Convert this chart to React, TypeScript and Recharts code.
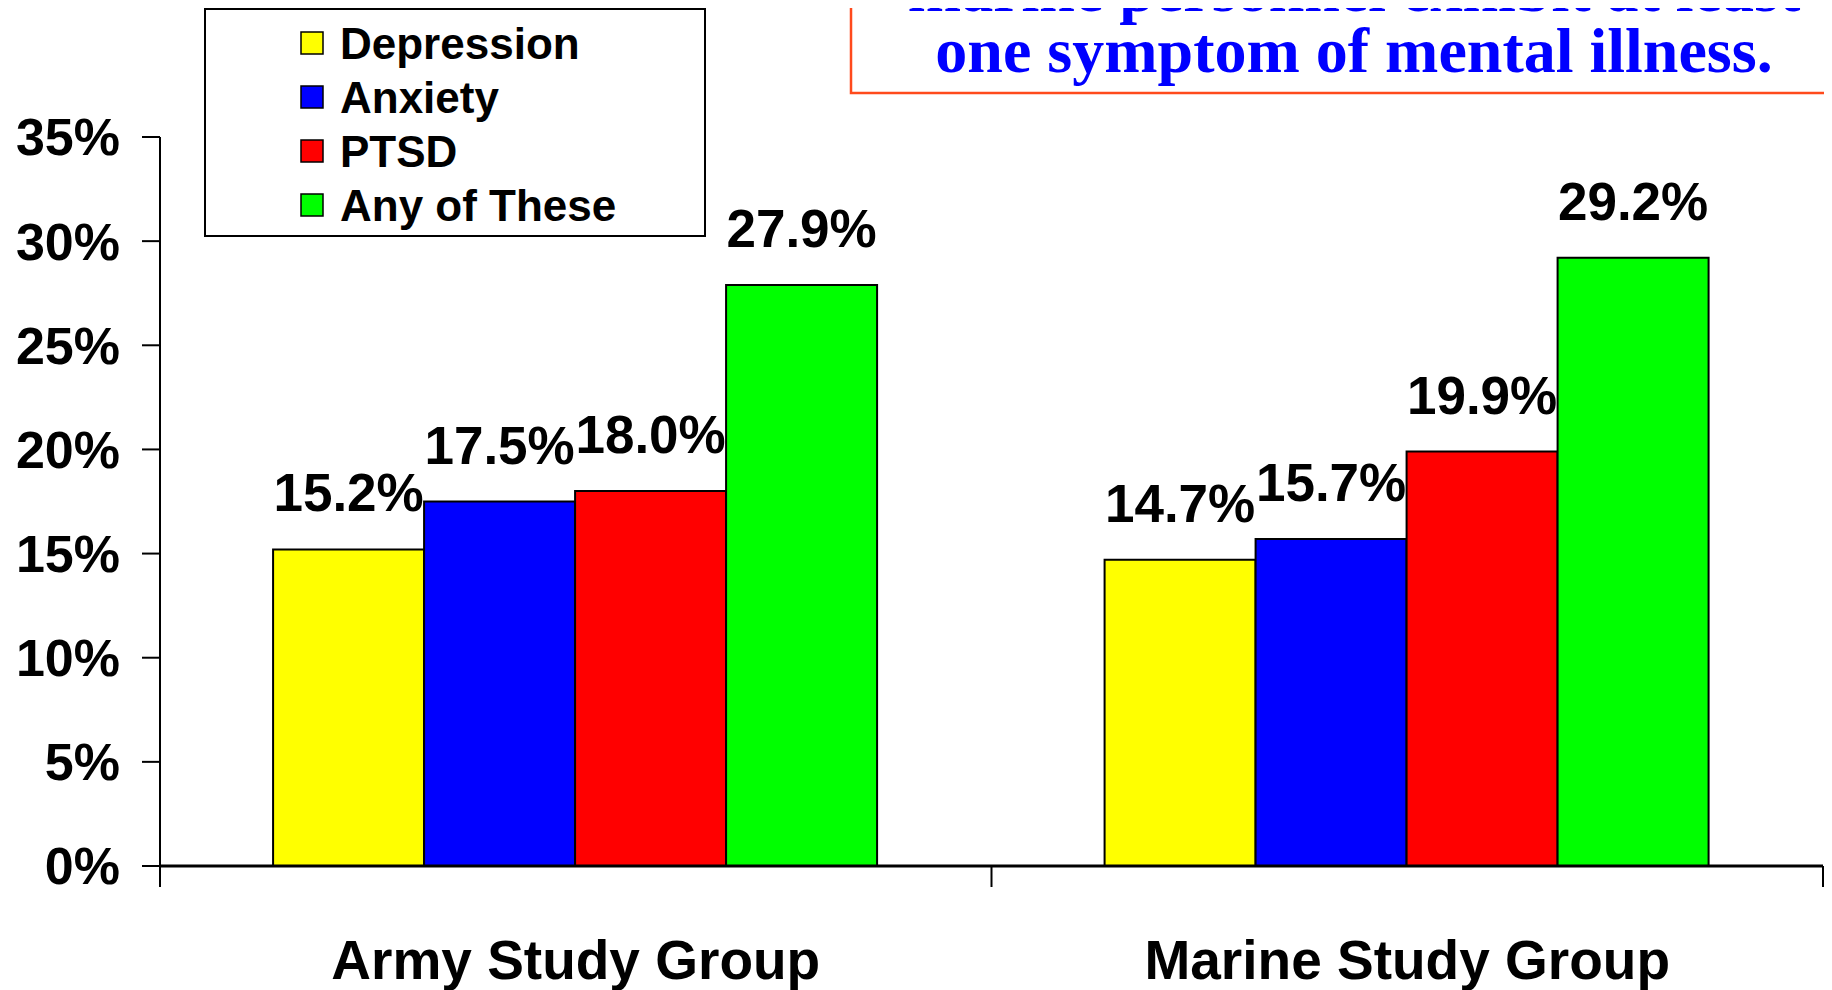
import { BarChart, Bar, XAxis, YAxis, LabelList, Legend } from "recharts";

const groups = ["Army Study Group", "Marine Study Group"];
const seriesKeys = ["depression", "anxiety", "ptsd", "any"];
const seriesNames = ["Depression", "Anxiety", "PTSD", "Any of These"];
const seriesColors = ["#FFFF00", "#0000FF", "#FF0000", "#00FF00"];
const depression = [15.2, 14.7];
const anxiety = [17.5, 15.7];
const ptsd = [18.0, 19.9];
const anyOfThese = [27.9, 29.2];
const yTicks = [0, 5, 10, 15, 20, 25, 30, 35];
const titleLines = ["marine personnel exhibit at least", "one symptom of mental illness."];

const data = groups.map((g, i) => ({
  group: g,
  depression: depression[i],
  anxiety: anxiety[i],
  ptsd: ptsd[i],
  any: anyOfThese[i],
}));

const SANS = "'Liberation Sans', Arial, sans-serif";
const SERIF = "'Liberation Serif', 'Times New Roman', serif";

// group name at the band centre, tick marks at the band edges
function GroupTick(props: any) {
  const { x, y, payload, index, width, visibleTicksCount } = props;
  const half = payload && payload.offset ? payload.offset : width / (2 * (visibleTicksCount || groups.length));
  return (
    <g>
      {index === 0 && (
        <line x1={x - half} x2={x - half} y1={y} y2={y + 21} stroke="#000" strokeWidth={2} />
      )}
      <line x1={x + half} x2={x + half} y1={y} y2={y + 21} stroke="#000" strokeWidth={2} />
      <text x={x} y={y + 113} textAnchor="middle" fontSize={55} fontWeight="bold" fontFamily={SANS} fill="#000">
        {payload.value}
      </text>
    </g>
  );
}

function LegendBox() {
  return (
    <svg width={502} height={229} style={{ display: "block" }}>
      <rect x={1} y={1} width={500} height={227} fill="#fff" stroke="#000" strokeWidth={2} />
      {seriesNames.map((name, i) => {
        const cy = 35 + i * 54;
        return (
          <g key={name}>
            <rect x={97} y={cy - 11} width={22} height={22} fill={seriesColors[i]} stroke="#000" strokeWidth={1.5} />
            <text x={136} y={cy + 16} fontSize={44} fontWeight="bold" fontFamily={SANS} fill="#000">
              {name}
            </text>
          </g>
        );
      })}
    </svg>
  );
}

export default function App() {
  return (
    <div style={{ position: "relative", width: 1832, height: 990, marginTop: -8, marginLeft: -8, background: "#fff" }}>
      <BarChart
        width={1832}
        height={990}
        data={data}
        margin={{ top: 137, right: 9, left: 0, bottom: 0 }}
        barCategoryGap="13.6%"
        barGap={0}
      >
        <XAxis
          dataKey="group"
          interval={0}
          tickSize={0}
          tickMargin={0}
          tickLine={false}
          tick={<GroupTick />}
          axisLine={{ stroke: "#000", strokeWidth: 3 }}
          height={124}
        />
        <YAxis
          domain={[0, 35]}
          ticks={yTicks}
          interval={0}
          width={160}
          tickSize={18}
          tickMargin={22}
          tickFormatter={(v) => `${v}%`}
          axisLine={{ stroke: "#000", strokeWidth: 2 }}
          tickLine={{ stroke: "#000", strokeWidth: 2 }}
          tick={{ fill: "#000", fontSize: 52, fontWeight: "bold", fontFamily: SANS }}
        />
        <Legend
          layout="horizontal"
          verticalAlign="middle"
          align="center"
          content={<LegendBox />}
          wrapperStyle={{ left: 204, top: 8, width: 502, height: 229 }}
        />
        {seriesKeys.map((k, i) => (
          <Bar
            key={k}
            dataKey={k}
            name={seriesNames[i]}
            fill={seriesColors[i]}
            stroke="#000"
            strokeWidth={2}
            isAnimationActive={false}
          >
            <LabelList
              dataKey={k}
              position="top"
              offset={38}
              formatter={(v: any) => `${Number(v).toFixed(1)}%`}
              fill="#000"
              fontSize={53}
              fontWeight="bold"
              fontFamily={SANS}
            />
          </Bar>
        ))}
      </BarChart>
      <svg width={1832} height={100} style={{ position: "absolute", left: 0, top: 0, pointerEvents: "none" }}>
        <rect x={851} y={-10} width={1100} height={103} fill="#fff" stroke="#ff4a1c" strokeWidth={2.5} />
        {titleLines.map((t, i) => (
          <text
            key={t}
            x={1354}
            y={11 + i * 61}
            textAnchor="middle"
            fontSize={64}
            fontWeight="bold"
            fontFamily={SERIF}
            fill="#0000FF"
          >
            {t}
          </text>
        ))}
      </svg>
    </div>
  );
}
